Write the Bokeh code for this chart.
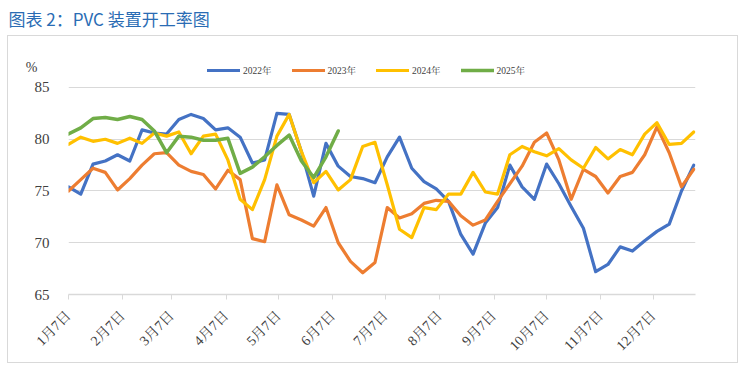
from bokeh.plotting import figure
from bokeh.models import (FixedTicker, Range1d, Legend, LegendItem, LinearAxis,
                          Title, InlineStyleSheet)
from bokeh.embed import file_html
from bokeh.resources import INLINE
import math

title_text = "图表 2：PVC 装置开工率图"
unit_label = "%"
unit_label_pos = 86.9
series_names = ["2022年", "2023年", "2024年", "2025年"]
series_colors = ["#4472C4", "#ED7D31", "#FFC000", "#70AD47"]
tick_days = [0, 31, 59, 90, 120, 151, 181, 212, 243, 273, 304, 334]
tick_labels = ["1月7日", "2月7日", "3月7日", "4月7日", "5月7日", "6月7日",
               "7月7日", "8月7日", "9月7日", "10月7日", "11月7日", "12月7日"]
y_ticks = [65, 70, 75, 80, 85]
# weekly observation dates as day offsets from Jan 7
week_days = [7 * i for i in range(52)]

v2022 = [75.4, 74.7, 77.6, 77.9, 78.5, 77.9, 80.9, 80.6, 80.5, 81.9,
         82.4, 82.0, 80.9, 81.1, 80.2, 77.7, 78.0, 82.5, 82.4, 78.8,
         74.5, 79.6, 77.4, 76.4, 76.2, 75.8, 78.3, 80.2, 77.2, 75.9,
         75.2, 74.0, 70.8, 68.9, 71.9, 73.4, 77.5, 75.4, 74.2, 77.6,
         75.7, 73.5, 71.4, 67.2, 67.9, 69.6, 69.2, 70.2, 71.1, 71.8,
         75.0, 77.5]
v2023 = [75.0, 76.1, 77.2, 76.8, 75.1, 76.2, 77.5, 78.6, 78.7, 77.5,
         76.9, 76.6, 75.2, 77.0, 76.1, 70.4, 70.1, 75.6, 72.7, 72.2,
         71.6, 73.4, 70.0, 68.2, 67.1, 68.1, 73.4, 72.4, 72.8, 73.8,
         74.1, 74.0, 72.6, 71.7, 72.2, 74.0, 75.7, 77.4, 79.7, 80.6,
         78.0, 74.2, 77.1, 76.4, 74.8, 76.4, 76.8, 78.5, 81.2, 78.7,
         75.4, 77.1]
v2024 = [79.5, 80.2, 79.8, 80.0, 79.6, 80.1, 79.6, 80.6, 80.3, 80.7,
         78.6, 80.3, 80.5, 78.0, 74.2, 73.2, 76.1, 80.3, 82.4, 78.8,
         75.8, 76.9, 75.1, 76.1, 79.3, 79.7, 75.6, 71.3, 70.5, 73.4,
         73.2, 74.7, 74.7, 76.8, 74.9, 74.7, 78.5, 79.3, 78.8, 78.4,
         79.1, 78.0, 77.2, 79.2, 78.1, 79.0, 78.5, 80.5, 81.6, 79.5,
         79.6, 80.7]
v2025 = [80.5, 81.1, 82.0, 82.1, 81.9, 82.2, 81.9, 80.8, 78.7, 80.3,
         80.2, 79.9, 79.9, 80.1, 76.7, 77.3, 78.3, 79.4, 80.4, 77.9,
         76.3, 78.3, 80.8]

serif = "'Liberation Serif', 'Noto Serif CJK SC', 'Noto Sans CJK SC', serif"

p = figure(width=738, height=363, x_range=Range1d(0, 358), y_range=Range1d(65, 87.8),
           output_backend="svg", toolbar_location=None,
           min_border_left=68, min_border_right=43, min_border_top=58, min_border_bottom=69)
p.outline_line_color = None
p.background_fill_color = "white"
p.border_fill_color = "white"

# light border round the chart area (below the title), drawn by CSS on the host element
p.stylesheets = [InlineStyleSheet(css="""
:host { position: relative; }
:host::after {
  content: ""; position: absolute; left: 7px; top: 35px;
  width: 731px; height: 328px; box-sizing: border-box;
  border: 1px solid #d9d9d9; pointer-events: none;
}
""")]

# spacer (nearest the frame) then the main title above it
p.add_layout(Title(text=" ", text_font_size="10px", standoff=13), "above")
p.add_layout(Title(text=title_text, text_font="Noto Sans CJK SC", text_font_size="17px",
                   text_font_style="normal", text_color="#2a6cb4", align="left",
                   offset=-60, standoff=4), "above")

p.xgrid.visible = False
p.ygrid.ticker = FixedTicker(ticks=y_ticks)
p.ygrid.grid_line_color = "#d9d9d9"
p.ygrid.grid_line_width = 1

yax = p.yaxis[0]
yax.ticker = FixedTicker(ticks=y_ticks)
yax.axis_line_color = None
yax.major_tick_line_color = None
yax.minor_tick_line_color = None
yax.major_label_text_font = serif
yax.major_label_text_font_size = "15px"
yax.major_label_text_color = "#404040"
yax.major_label_standoff = 13

# unit label "%" as an extra left axis with a single labelled tick
unit_axis = LinearAxis(ticker=FixedTicker(ticks=[unit_label_pos]),
                       major_label_overrides={unit_label_pos: unit_label},
                       axis_line_color=None, major_tick_line_color=None,
                       minor_tick_line_color=None, major_label_standoff=-12,
                       major_label_text_font=serif, major_label_text_font_size="14px",
                       major_label_text_color="#404040")
p.add_layout(unit_axis, "left")

xax = p.xaxis[0]
xax.ticker = FixedTicker(ticks=tick_days)
xax.major_label_overrides = {d: l for d, l in zip(tick_days, tick_labels)}
xax.major_label_orientation = math.pi / 4
xax.axis_line_color = "#d9d9d9"
xax.axis_line_width = 1.5
xax.major_tick_line_color = "#d9d9d9"
xax.major_tick_in = 0
xax.major_tick_out = 5
xax.minor_tick_line_color = None
xax.major_label_text_font = serif
xax.major_label_text_font_size = "14px"
xax.major_label_text_color = "#404040"
xax.major_label_standoff = 14

items = []
for name, vals, col in zip(series_names, [v2022, v2023, v2024, v2025], series_colors):
    r = p.line(week_days[:len(vals)], vals, line_color=col,
               line_width=3.5 if name == "2025年" else 3.2,
               line_join="round", line_cap="round")
    items.append(LegendItem(label=name, renderers=[r]))

legend = Legend(items=items, location=(139, 214), orientation="horizontal",
                glyph_width=33, glyph_height=20, label_height=20,
                label_standoff=3, spacing=20, padding=0, margin=0,
                border_line_color=None, background_fill_alpha=0,
                label_text_font=serif, label_text_font_size="9.5px",
                label_text_color="#404040")
p.add_layout(legend)

open("out.html", "w").write(file_html(p, INLINE))
